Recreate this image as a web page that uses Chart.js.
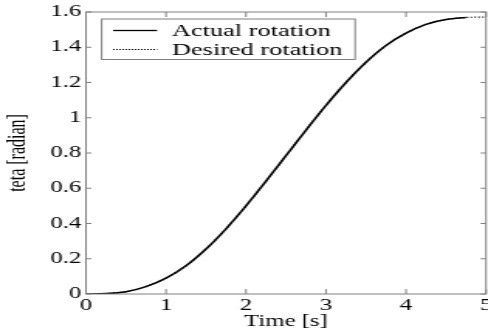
<!DOCTYPE html>
<html>
<head>
<meta charset="utf-8">
<script src="https://cdn.jsdelivr.net/npm/chart.js@4"></script>
<style>
  html, body { margin: 0; padding: 0; background: #fff; overflow: hidden; }
  /* the original figure is stretched sideways, so draw narrow and stretch */
  #wrap { width: 315px; height: 334px; transform: scaleX(1.5492); transform-origin: 0 0; }
</style>
</head>
<body>
<div id="wrap"><canvas id="chart"></canvas></div>
<script>
// Data
const time = [0, 0.25, 0.5, 0.75, 1, 1.25, 1.5, 1.75, 2, 2.25, 2.5, 2.75, 3, 3.25, 3.5, 3.75, 4, 4.25, 4.5, 4.75, 5];
const actualRotation = [0, 0.002, 0.013, 0.042, 0.09, 0.16, 0.255, 0.37, 0.5, 0.64, 0.785, 0.93, 1.07, 1.2, 1.315, 1.41, 1.48, 1.53, 1.557, 1.569, null];
const desiredRotation = [0, 0.002, 0.013, 0.042, 0.09, 0.16, 0.255, 0.37, 0.5, 0.64, 0.785, 0.93, 1.07, 1.2, 1.315, 1.41, 1.48, 1.53, 1.557, 1.569, 1.571];
const xTicks = [0, 1, 2, 3, 4, 5];
const yTicks = [0, 0.2, 0.4, 0.6, 0.8, 1, 1.2, 1.4, 1.6];

const serif = 'Liberation Serif';
const axisGray = '#808080';

function points(ys) {
    return time.map((t, i) => ({ x: t, y: ys[i] }));
}

// MATLAB style box with inward ticks
const boxTicks = {
    id: 'boxTicks',
    afterDraw(chart) {
        const { ctx, chartArea: a, scales } = chart;
        ctx.save();
        ctx.strokeStyle = axisGray;
        ctx.lineWidth = 1;
        ctx.strokeRect(a.left, a.top, a.right - a.left, a.bottom - a.top);
        ctx.beginPath();
        xTicks.forEach(v => {
            const x = scales.x.getPixelForValue(v);
            ctx.moveTo(x, a.bottom); ctx.lineTo(x, a.bottom - 5);
            ctx.moveTo(x, a.top); ctx.lineTo(x, a.top + 5);
        });
        yTicks.forEach(v => {
            const y = scales.y.getPixelForValue(v);
            ctx.moveTo(a.left, y); ctx.lineTo(a.left + 3.5, y);
            ctx.moveTo(a.right, y); ctx.lineTo(a.right - 3.5, y);
        });
        ctx.stroke();
        ctx.restore();
    }
};

// boxed legend in the top left corner
const boxLegend = {
    id: 'boxLegend',
    afterDraw(chart) {
        const ctx = chart.ctx;
        const left = 65.6, top = 19, right = 229.2, bottom = 59.5;
        ctx.save();
        ctx.fillStyle = '#fff';
        ctx.fillRect(left, top, right - left, bottom - top);
        ctx.strokeStyle = axisGray;
        ctx.lineWidth = 1;
        ctx.strokeRect(left, top, right - left, bottom - top);
        const rows = [30.5, 49.5];
        chart.data.datasets.forEach((ds, i) => {
            const y = rows[i];
            ctx.beginPath();
            ctx.strokeStyle = '#000';
            ctx.lineWidth = i === 0 ? 1.3 : 1;
            ctx.setLineDash(i === 0 ? [] : [1, 1]);
            ctx.moveTo(73, y); ctx.lineTo(101.4, y);
            ctx.stroke();
            ctx.setLineDash([]);
            ctx.fillStyle = '#000';
            ctx.font = '17px "' + serif + '"';
            ctx.textBaseline = 'middle';
            ctx.fillText(ds.label, 111, y + 1);
        });
        ctx.restore();
    }
};

new Chart(document.getElementById('chart'), {
    type: 'line',
    data: {
        datasets: [{
            label: 'Actual rotation',
            data: points(actualRotation),
            borderColor: '#000',
            borderWidth: 1.6,
            pointRadius: 0,
            cubicInterpolationMode: 'monotone',
            fill: false,
            order: 1
        }, {
            label: 'Desired rotation',
            data: points(desiredRotation),
            borderColor: '#000',
            borderWidth: 1.2,
            borderDash: [1, 1.5],
            pointRadius: 0,
            cubicInterpolationMode: 'monotone',
            fill: false,
            order: 2
        }]
    },
    options: {
        responsive: true,
        maintainAspectRatio: false,
        animation: false,
        events: [],
        layout: { padding: { left: 0, top: 12, right: 1.3, bottom: 0 } },
        plugins: { legend: { display: false }, tooltip: { enabled: false } },
        scales: {
            x: {
                type: 'linear',
                min: 0, max: 5,
                afterBuildTicks: s => { s.ticks = xTicks.map(v => ({ value: v })); },
                afterFit: s => { s.height = 40; s.paddingLeft = 0; s.paddingRight = 0; },
                grid: { drawOnChartArea: false, drawTicks: false },
                border: { display: false },
                ticks: { color: '#000', padding: 2, maxRotation: 0, font: { family: serif, size: 16 } },
                title: { display: true, text: 'Time [s]', color: '#000', padding: { top: 0, bottom: 3 }, font: { family: serif, size: 16 } }
            },
            y: {
                min: 0, max: 1.6,
                afterBuildTicks: s => { s.ticks = yTicks.map(v => ({ value: v })); },
                afterFit: s => { s.width = 55.5; s.paddingTop = 0; s.paddingBottom = 0; },
                grid: { drawOnChartArea: false, drawTicks: false },
                border: { display: false },
                ticks: {
                    color: '#000', padding: 3, font: { family: serif, size: 16 },
                    callback: v => String(parseFloat(v.toFixed(1)))
                },
                title: { display: true, text: 'teta [radian]', color: '#000', padding: { top: 2, bottom: 0 }, font: { family: serif, size: 16 } }
            }
        }
    },
    plugins: [boxTicks, boxLegend]
});
</script>
</body>
</html>
